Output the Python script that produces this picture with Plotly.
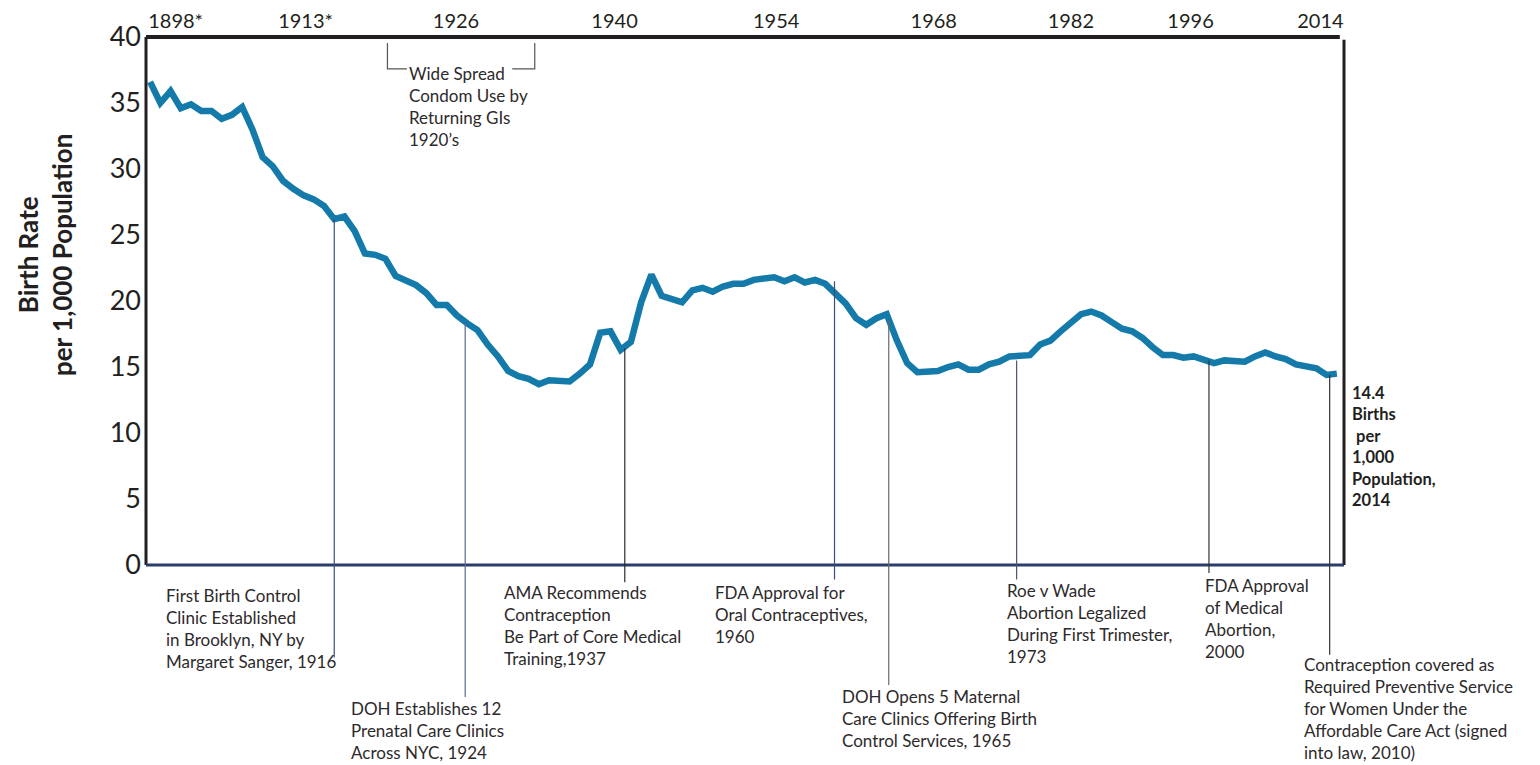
import plotly.graph_objects as go

# ---------------- data ----------------
years = list(range(1898, 2015))
birth_rate = [
    36.6, 35.0, 35.9, 34.6, 34.9, 34.4, 34.4, 33.8, 34.1, 34.7,   # 1898-1907
    33.0, 30.9, 30.2, 29.1, 28.5, 28.0, 27.7, 27.2, 26.2, 26.4,   # 1908-1917
    25.3, 23.6, 23.5, 23.2, 21.9, 21.5, 21.2, 20.6, 19.7, 19.7,   # 1918-1927
    18.9, 18.3, 17.8, 16.7, 15.8, 14.7, 14.3, 14.1, 13.7, 14.0,   # 1928-1937
    14.0, 13.9, 14.5, 15.2, 17.6, 17.7, 16.3, 16.9, 19.9, 22.0,   # 1938-1947
    20.4, 20.1, 19.9, 20.8, 21.0, 20.7, 21.1, 21.3, 21.3, 21.6,   # 1948-1957
    21.7, 21.8, 21.5, 21.8, 21.4, 21.6, 21.3, 20.5, 19.8, 18.7,   # 1958-1967
    18.2, 18.7, 19.0, 17.0, 15.3, 14.6, 14.6, 14.7, 15.0, 15.2,   # 1968-1977
    14.8, 14.8, 15.2, 15.4, 15.8, 15.8, 15.9, 16.7, 17.0, 17.7,   # 1978-1987
    18.3, 19.0, 19.2, 18.9, 18.4, 17.9, 17.7, 17.2, 16.5, 15.9,   # 1988-1997
    15.9, 15.7, 15.8, 15.5, 15.3, 15.5, 15.5, 15.4, 15.8, 16.1,   # 1998-2007
    15.8, 15.6, 15.2, 15.0, 14.9, 14.4, 14.5,                     # 2008-2014
]

top_tick_text = ["1898*", "1913*", "1926", "1940", "1954", "1968", "1982", "1996", "2014"]
top_tick_pos = [1900.5, 1913.2, 1927.9, 1943.4, 1959.2, 1974.6, 1988.0, 1999.7, 2012.4]
y_ticks = [0, 5, 10, 15, 20, 25, 30, 35, 40]

# events: where the leader line sits, its top (on/near curve) and bottom (below axis)
event_x = [1916.0, 1928.8, 1944.4, 1964.9, 1970.2, 1982.7, 2001.5, 2013.3]
event_top = [26.2, 18.3, 16.4, 21.5, 18.5, 15.5, 15.5, 14.4]
event_bottom = [-7.0, -10.0, -1.3, -1.1, -9.1, -1.1, -0.6, -6.8]
event_color = ["#3c4f7c", "#5a6a8c", "#2b2b2b", "#3b4d7a", "#6a6a6a", "#4a5670", "#333333", "#333333"]
event_text = [
    "First Birth Control<br>Clinic Established<br>in Brooklyn, NY by<br>Margaret Sanger, 1916",
    "DOH Establishes 12<br>Prenatal Care Clinics<br>Across NYC, 1924",
    "AMA Recommends<br>Contraception<br>Be Part of Core Medical<br>Training,1937",
    "FDA Approval for<br>Oral Contraceptives,<br>1960",
    "DOH Opens 5 Maternal<br>Care Clinics Offering Birth<br>Control Services, 1965",
    "Roe v Wade<br>Abortion Legalized<br>During First Trimester,<br>1973",
    "FDA Approval<br>of Medical<br>Abortion,<br>2000",
    "Contraception covered as<br>Required Preventive Service<br>for Women Under the<br>Affordable Care Act (signed<br>into law, 2010)",
]
event_text_x = [1899.4, 1917.4, 1932.4, 1953.0, 1965.4, 1981.6, 2000.9, 2010.6]
event_text_y = [-1.4, -9.95, -1.15, -1.15, -9.0, -1.0, -0.6, -6.6]

bracket_x = [1921.2, 1923.1, 1933.4, 1935.6]
bracket_y = [39.55, 37.58]
bracket_text = "Wide Spread<br>Condom Use by<br>Returning GIs<br>1920\u2019s"

final_label = "<b>14.4<br>Births<br> per<br>1,000<br>Population,<br>2014</b>"

X_RANGE = [1897.6, 2014.7]
Y_RANGE = [0, 40]

FONT = "Lato, 'Open Sans', 'Liberation Sans', sans-serif"
TXT = "#2d2a2b"
LINE_BLUE = "#137aaa"

fig = go.Figure()
fig.add_trace(go.Scatter(
    x=years, y=birth_rate, mode="lines",
    line=dict(color=LINE_BLUE, width=6.5),
    hoverinfo="x+y", showlegend=False,
))

shapes = []
# frame
shapes.append(dict(type="line", xref="paper", yref="paper", x0=0, x1=0, y0=0, y1=1,
                   line=dict(color="#231f20", width=3)))
shapes.append(dict(type="line", xref="paper", yref="paper", x0=0, x1=0.9965, y0=1, y1=1,
                   line=dict(color="#231f20", width=4)))
shapes.append(dict(type="line", xref="paper", yref="paper", x0=1, x1=1, y0=0, y1=0.995,
                   line=dict(color="#231f20", width=3)))
shapes.append(dict(type="line", xref="paper", yref="paper", x0=0, x1=1, y0=0, y1=0,
                   line=dict(color="#2c3d6a", width=3)))

# event leader lines
for ex, et, eb, ec in zip(event_x, event_top, event_bottom, event_color):
    shapes.append(dict(type="line", xref="x", yref="paper", x0=ex, x1=ex,
                       y0=et / Y_RANGE[1], y1=eb / Y_RANGE[1],
                       line=dict(color=ec, width=1.2)))

# bracket
bx0, bx1, bx2, bx3 = bracket_x
by0, by1 = bracket_y
shapes.append(dict(type="path", xref="x", yref="y",
                   path=f"M {bx0},{by0} L {bx0},{by1} L {bx1},{by1} M {bx2},{by1} L {bx3},{by1} L {bx3},{by0}",
                   line=dict(color="#555555", width=1.2)))

annotations = []
for tx, ty, tt in zip(event_text_x, event_text_y, event_text):
    annotations.append(dict(x=tx, y=ty / Y_RANGE[1], xref="x", yref="paper", text=tt,
                            showarrow=False, xanchor="left", yanchor="top", align="left",
                            font=dict(family=FONT, size=17, color=TXT)))

annotations.append(dict(x=bx1, y=by1, xref="x", yref="y", text=bracket_text,
                        showarrow=False, xanchor="left", yanchor="top", align="left", yshift=8,
                        font=dict(family=FONT, size=17, color=TXT)))

annotations.append(dict(x=1, y=0.3485, xref="paper", yref="paper", text=final_label,
                        showarrow=False, xanchor="left", yanchor="top", align="left", xshift=6,
                        font=dict(family=FONT, size=16.5, color="#231f20")))

annotations.append(dict(x=-0.0843, y=0.587, xref="paper", yref="paper",
                        text="<b>Birth Rate</b><br><b>per 1,000 Population</b>",
                        textangle=-90, showarrow=False, xanchor="center", yanchor="middle",
                        font=dict(family=FONT, size=26, color="#231f20")))

fig.update_layout(
    width=1532, height=757,
    margin=dict(l=138, r=196, t=29, b=200, autoexpand=False),
    paper_bgcolor="white", plot_bgcolor="white",
    font=dict(family=FONT, color="#231f20"),
    shapes=shapes, annotations=annotations,
    showlegend=False,
)
fig.update_xaxes(
    range=X_RANGE, side="top", tickmode="array", tickvals=top_tick_pos, ticktext=top_tick_text,
    ticks="", showgrid=False, zeroline=False, showline=False, automargin=False,
    tickfont=dict(family=FONT, size=20, color="#231f20"), ticklabelstandoff=4,
)
fig.update_yaxes(
    range=Y_RANGE, tickmode="array", tickvals=y_ticks, automargin=False,
    ticks="", showgrid=False, zeroline=False, showline=False,
    tickfont=dict(family=FONT, size=27, color="#231f20"), ticklabelstandoff=4,
)

fig.write_html("out.html")
